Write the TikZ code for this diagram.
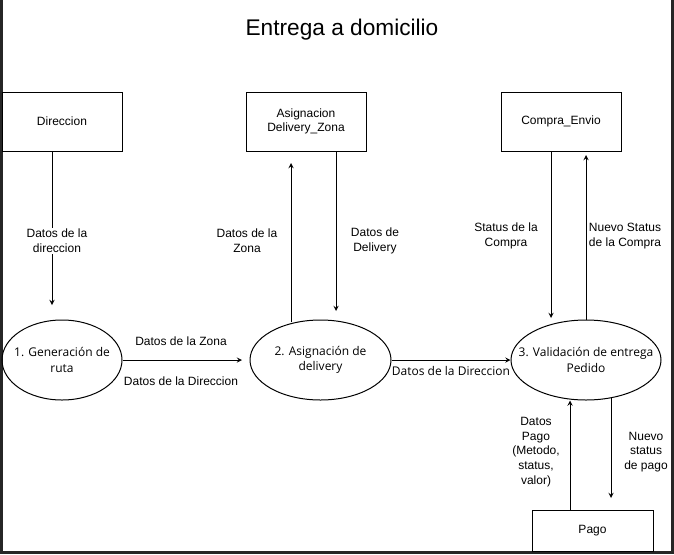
\documentclass[tikz,border=0pt]{standalone}
\usepackage{fontspec}
\setmainfont{Liberation Sans}
\newfontfamily\segoe{Open Sans}
\usetikzlibrary{shapes.geometric}

\begin{document}
\begin{tikzpicture}[x=0.75pt,y=-0.75pt,>=stealth,
    every node/.style={font=\fontsize{9}{11}\selectfont},
    entidad/.style={draw, line width=0.75pt, minimum width=90pt, minimum height=44.25pt, inner sep=0pt, align=center},
    proceso/.style={draw, ellipse, line width=0.75pt, inner sep=0pt, align=center, font=\segoe\fontsize{9}{11.5}\selectfont},
    flujo/.style={->, line width=0.75pt},
    etiqueta/.style={align=center, fill=white, inner sep=1pt}]
                \useasboundingbox (0,0) rectangle (674,554);
                % Marco
                \draw[line width=2.25pt, black!85] (1.5,-5) -- (1.5,552.5) -- (672.5,552.5) -- (672.5,-5);

                % Titulo
                \node[font=\fontsize{17}{20}\selectfont] (titulo) at (342,30) {Entrega a domicilio};

                % Entidades externas
                \node[entidad] (dir) at (62,121.5) {Direccion};
                \node[entidad] (asig) at (306,121.5) {Asignacion\\Delivery\_Zona};
                \node[entidad] (compra) at (561,121.5) {Compra\_Envio};
                \node[entidad, minimum width=90.75pt, minimum height=30.75pt] (pago) at (592.5,530.5) {Pago};

                % Procesos
                \node[proceso, inner xsep=-6pt, minimum width=90pt, minimum height=60pt] (p1) at (62,360) {1. Generación de\\ruta};
                \node[proceso, inner xsep=-3pt, minimum width=105.75pt, minimum height=60pt] (p2) at (320.5,360) {2. Asignación de\\delivery};
                \node[proceso, inner xsep=-13pt, minimum width=112.5pt, minimum height=60pt] (p3) at (586,360) {3. Validación de entrega\\Pedido};

                % Extremos libres de los flujos
                \coordinate (dirfin) at (52,305);
                \coordinate (p2in) at (242,360);
                \coordinate (zonaini) at (291,322);
                \coordinate (zonafin) at (291,163);
                \coordinate (deliveryfin) at (336,311);
                \coordinate (statusfin) at (551,318);
                \coordinate (nuevofin) at (586,155);
                \coordinate (pagofin) at (570,400.5);
                \coordinate (estadoini) at (611,398);
                \coordinate (estadofin) at (611,498);

                % Flujos de datos
                \draw[flujo] (dir.south -| dirfin) -- (dirfin);
                \draw[flujo] (p1.east) -- (p2in);
                \draw[flujo] (zonaini) -- (zonafin);
                \draw[flujo] (asig.south -| deliveryfin) -- (deliveryfin);
                \draw[flujo] (p2.east) -- (p3.west);
                \draw[flujo] (compra.south -| statusfin) -- (statusfin);
                \draw[flujo] (p3.north) -- (nuevofin);
                \draw[flujo] (pago.north -| pagofin) -- (pagofin);
                \draw[flujo] (estadoini) -- (estadofin);

                % Etiquetas de los flujos
                \node[etiqueta] (l1) at (57,241) {Datos de la\\direccion};
                \node[etiqueta] (l2) at (181,341) {Datos de la Zona};
                \node[etiqueta] (l3) at (181,381) {Datos de la Direccion};
                \node[etiqueta] (l4) at (247,241) {Datos de la\\Zona};
                \node[etiqueta] (l5) at (375,241) {Datos de\\Delivery};
                \node[etiqueta, font=\segoe\fontsize{9}{11}\selectfont] (l6) at (451,371) {Datos de la Direccion};
                \node[etiqueta] (l7) at (506,236) {Status de la\\Compra};
                \node[etiqueta] (l8) at (625,236) {Nuevo Status\\de la Compra};
                \node[etiqueta] (l9) at (536,452) {Datos\\Pago\\(Metodo,\\status,\\valor)};
                \node[etiqueta] (l10) at (646,452) {Nuevo\\status\\de pago};
            \end{tikzpicture}
\end{document}
